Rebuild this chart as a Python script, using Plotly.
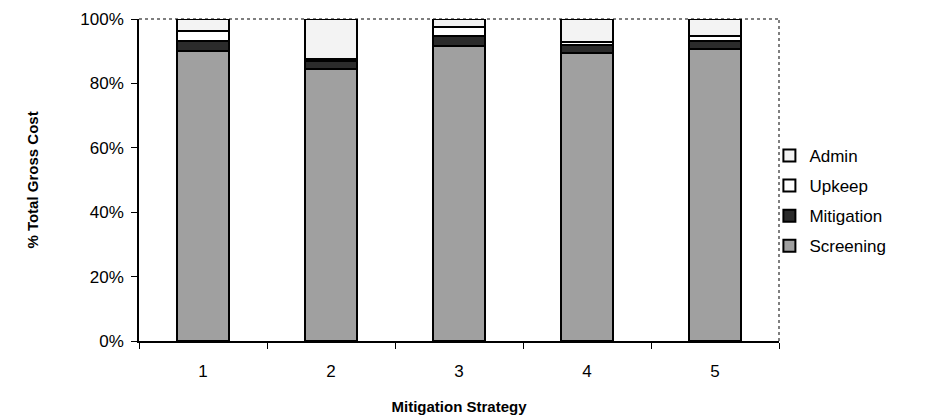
import plotly.graph_objects as go

# Cost breakdown (% of total gross cost) for each mitigation strategy
strategies = ["1", "2", "3", "4", "5"]
screening = [90.1, 84.5, 91.7, 89.5, 90.7]
mitigation = [3.1, 2.5, 3.1, 2.5, 2.4]
upkeep = [3.1, 0.6, 2.6, 1.0, 1.7]
admin = [3.7, 12.4, 2.6, 7.0, 5.2]
y_ticks = [0, 20, 40, 60, 80, 100]
y_tick_labels = ["0%", "20%", "40%", "60%", "80%", "100%"]

series = [
    ("Screening", screening, "#a0a0a0", 4),
    ("Mitigation", mitigation, "#2b2b2b", 3),
    ("Upkeep", upkeep, "#ffffff", 2),
    ("Admin", admin, "#f3f3f3", 1),
]

fig = go.Figure()
for name, vals, color, rank in series:
    fig.add_trace(go.Bar(
        x=strategies, y=vals, name=name,
        legendgroup=name, legendrank=rank,
        marker=dict(color=color, line=dict(color="black", width=2)),
    ))

font_family = "Liberation Sans, Arial, sans-serif"

fig.update_layout(
    width=928, height=420,
    barmode="stack", bargap=0.59,
    plot_bgcolor="white", paper_bgcolor="white",
    margin=dict(l=139, r=149, t=19, b=79),
    font=dict(family=font_family, size=16, color="black"),
    showlegend=True,
    legend=dict(
        x=0.985, xanchor="left", y=0.435, yanchor="middle",
        traceorder="grouped", tracegroupgap=5,
        font=dict(size=17), itemwidth=30,
        bgcolor="rgba(0,0,0,0)",
    ),
    xaxis=dict(
        type="category", showline=True, linecolor="black", linewidth=1.5,
        ticks="outside", tickson="boundaries", ticklen=6, tickcolor="black",
        tickfont=dict(size=17), ticklabelstandoff=14,
        showgrid=False, automargin=False,
        title=dict(text="<b>Mitigation Strategy</b>", font=dict(size=15), standoff=21),
    ),
    yaxis=dict(
        range=[0, 100], tickvals=y_ticks, ticktext=y_tick_labels,
        showline=True, linecolor="black", linewidth=1.5,
        ticks="outside", ticklen=6, tickcolor="black",
        tickfont=dict(size=17), ticklabelstandoff=4,
        showgrid=False, zeroline=False, automargin=False,
        title=dict(text="<b>% Total Gross Cost</b>", font=dict(size=15), standoff=38),
    ),
    shapes=[
        dict(type="line", xref="paper", yref="paper", x0=0, x1=1, y0=1, y1=1,
             line=dict(color="#555555", width=1.5, dash="dot"), layer="below"),
        dict(type="line", xref="paper", yref="paper", x0=1, x1=1, y0=0, y1=1,
             line=dict(color="#555555", width=1.5, dash="dot"), layer="below"),
    ],
)

fig.write_html("out.html")
